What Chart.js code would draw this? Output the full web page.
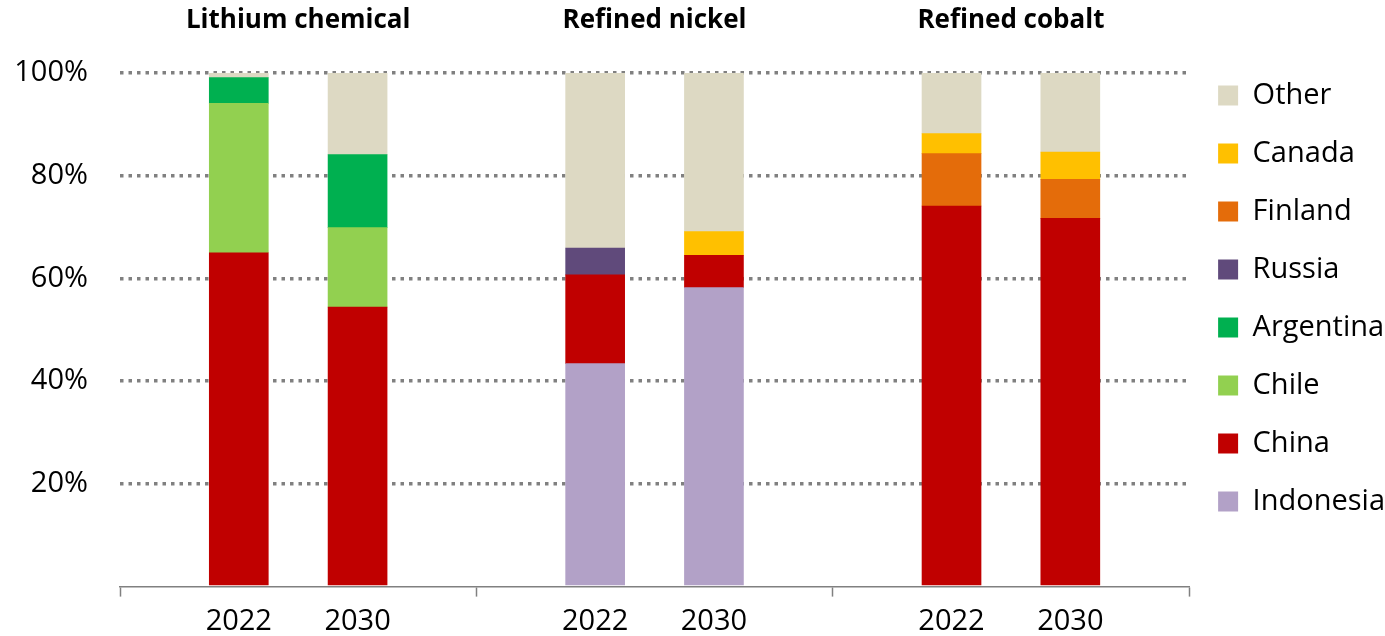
<!DOCTYPE html>
<html>
<head>
<meta charset="utf-8">
<script src="https://cdn.jsdelivr.net/npm/chart.js@4"></script>
<style>
  html, body { margin: 0; padding: 0; background: #fff; }
  #wrap { width: 1385px; height: 636px; }
</style>
</head>
<body>
<div id="wrap"><canvas id="chart"></canvas></div>
<script>
// groups and bars
const groups = ['Lithium chemical', 'Refined nickel', 'Refined cobalt'];
const groupCenters = [1.5, 4.5, 7.5];
const years = ['2022', '2030', '2022', '2030', '2022', '2030'];
const barPos = [1, 2, 4, 5, 7, 8];

// shares (%) per bar, bottom to top
const indonesia = [null, null, 43.4, 58.2, null, null];
const china     = [65.0, 54.4, 17.3, 6.3, 74.1, 71.7];
const chile     = [29.1, 15.5, null, null, null, null];
const argentina = [5.0, 14.2, null, null, null, null];
const russia    = [null, null, 5.2, null, null, null];
const finland   = [null, null, null, null, 10.2, 7.6];
const canada    = [null, null, null, 4.6, 3.9, 5.3];
const other     = [0.9, 15.9, 34.1, 30.9, 11.8, 15.4];

const yTicks = [0, 20, 40, 60, 80, 100];

const series = [
  { label: 'Indonesia', data: indonesia, color: '#B2A1C7' },
  { label: 'China', data: china, color: '#C00000' },
  { label: 'Chile', data: chile, color: '#92D050' },
  { label: 'Argentina', data: argentina, color: '#00B050' },
  { label: 'Russia', data: russia, color: '#604A7B' },
  { label: 'Finland', data: finland, color: '#E46C0A' },
  { label: 'Canada', data: canada, color: '#FFC000' },
  { label: 'Other', data: other, color: '#DDD9C3' }
];

const FONT = "'Open Sans', sans-serif";
const GREY = '#808080';

new Chart(document.getElementById('chart'), {
  type: 'bar',
  data: {
    datasets: series.map(s => ({
      label: s.label,
      data: s.data.map((v, i) => ({ x: barPos[i], y: v })),
      backgroundColor: s.color,
      borderWidth: 0,
      barThickness: 59
    }))
  },
  options: {
    responsive: true,
    maintainAspectRatio: false,
    animation: false,
    layout: { padding: { top: 5, right: -10, bottom: 0, left: 0 } },
    plugins: {
      tooltip: { enabled: false },
      legend: {
        position: 'right',
        align: 'start',
        reverse: true,
        title: { display: true, text: '', padding: 0, font: { size: 10, lineHeight: '47px' } },
        labels: {
          boxWidth: 20,
          boxHeight: 20,
          padding: 29,
          color: '#000',
          font: { family: FONT, size: 29 }
        }
      }
    },
    scales: {
      x: {
        type: 'linear',
        min: 0,
        max: 9,
        stacked: true,
        offset: false,
        afterBuildTicks: axis => {
          axis.ticks = [0, 1, 2, 3, 4, 5, 6, 7, 8, 9].map(v => ({ value: v }));
        },
        afterFit: axis => { axis.height = 48; },
        ticks: {
          autoSkip: false,
          maxRotation: 0,
          padding: 8,
          color: '#000',
          font: { family: FONT, size: 29 },
          callback: v => {
            const i = barPos.indexOf(v);
            return i >= 0 ? years[i] : '';
          }
        },
        grid: {
          offset: false,
          drawOnChartArea: false,
          tickLength: 10,
          tickWidth: 1.5,
          tickColor: ctx => (ctx.tick && ctx.tick.value % 3 === 0) ? GREY : 'transparent'
        },
        border: { display: true, color: GREY, width: 1.5 }
      },
      x2: {
        type: 'linear',
        position: 'top',
        min: 0,
        max: 9,
        offset: false,
        afterBuildTicks: axis => {
          axis.ticks = groupCenters.map(v => ({ value: v }));
        },
        afterFit: axis => { axis.height = 68; },
        ticks: {
          autoSkip: false,
          maxRotation: 0,
          padding: 37,
          color: '#000',
          font: { family: FONT, size: 26, weight: 'bold' },
          callback: v => groups[groupCenters.indexOf(v)]
        },
        grid: { display: false, drawTicks: false, offset: false },
        border: { display: false }
      },
      y: {
        stacked: true,
        min: 0,
        max: 100,
        afterBuildTicks: axis => {
          axis.ticks = yTicks.map(v => ({ value: v }));
        },
        afterFit: axis => { axis.width = 120; },
        ticks: {
          padding: 32,
          color: '#000',
          font: { family: FONT, size: 29 },
          callback: v => v === 0 ? '' : v + '%'
        },
        grid: {
          drawTicks: false,
          lineWidth: 3.5,
          color: ctx => (ctx.tick && ctx.tick.value === 0) ? 'transparent' : GREY
        },
        border: { display: false, dash: [3.5, 5] }
      }
    }
  }
});
</script>
</body>
</html>
